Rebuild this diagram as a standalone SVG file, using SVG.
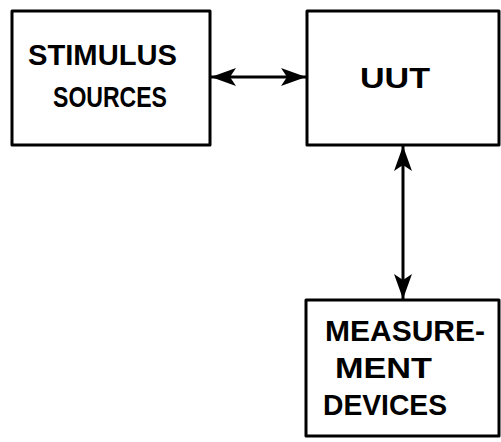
<svg xmlns="http://www.w3.org/2000/svg" width="501" height="442" viewBox="0 0 501 442">
  <style>
    .box { fill: #ffffff; stroke: #000000; stroke-width: 3; stroke-linejoin: round; }
    .lbl { font-family: "Liberation Sans", Arial, sans-serif; font-size: 30px; font-weight: bold; fill: #000000; }
    .wire { stroke: #000000; stroke-width: 3; fill: none; }
  </style>
  <defs>
    <marker id="head" viewBox="0 0 25 18" refX="25" refY="9" markerWidth="25" markerHeight="18" markerUnits="userSpaceOnUse" orient="auto-start-reverse">
      <path d="M0,0 L25,9 L0,18 L6,9 Z" fill="#000000"/>
    </marker>
  </defs>
  <rect width="501" height="442" fill="#ffffff"/>

  <g id="stimulus-sources">
    <rect class="box" x="12" y="11" width="198" height="134"/>
    <text class="lbl" x="28" y="65" textLength="149" lengthAdjust="spacingAndGlyphs">STIMULUS</text>
    <text class="lbl" x="53" y="107" font-size="28" textLength="114" lengthAdjust="spacingAndGlyphs">SOURCES</text>
  </g>

  <g id="uut">
    <rect class="box" x="307" y="11" width="192" height="134"/>
    <text class="lbl" x="360" y="88" font-size="36" textLength="70" lengthAdjust="spacingAndGlyphs">UUT</text>
  </g>

  <g id="measurement-devices">
    <rect class="box" x="306" y="300" width="193" height="136"/>
    <text class="lbl" x="325" y="341" font-size="31" textLength="160" lengthAdjust="spacingAndGlyphs">MEASURE-</text>
    <text class="lbl" x="335" y="378" font-size="32" textLength="97" lengthAdjust="spacingAndGlyphs">MENT</text>
    <text class="lbl" x="323" y="415" font-size="33" textLength="124" lengthAdjust="spacingAndGlyphs">DEVICES</text>
  </g>

  <g id="connectors">
    <line class="wire" x1="211" y1="77" x2="306" y2="77" marker-start="url(#head)" marker-end="url(#head)"/>
    <line class="wire" x1="403" y1="146" x2="403" y2="299" marker-start="url(#head)" marker-end="url(#head)"/>
  </g>
</svg>
